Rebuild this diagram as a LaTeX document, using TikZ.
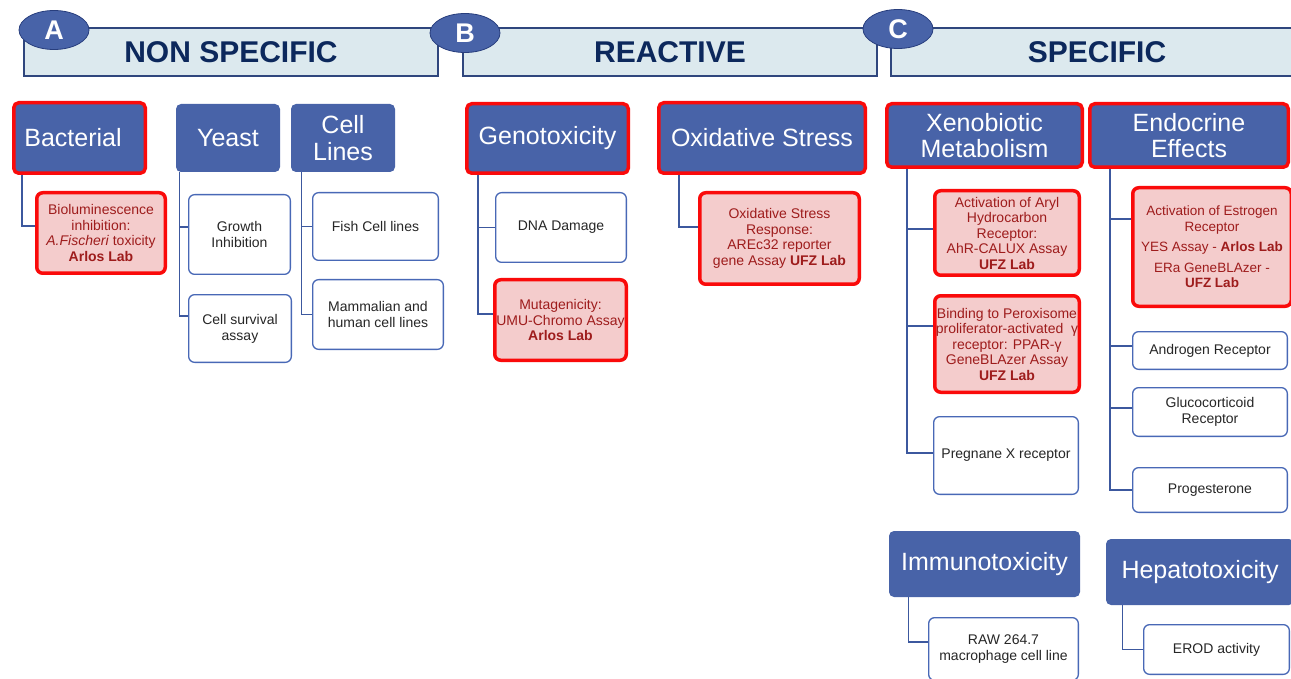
\documentclass[tikz,border=0pt]{standalone}
\usepackage{fontspec}
\setmainfont{Liberation Sans}
\usepackage{xcolor}
\definecolor{catblue}{RGB}{72,99,168}
\definecolor{barfill}{RGB}{220,233,238}
\definecolor{barline}{RGB}{47,70,125}
\definecolor{hdrnavy}{RGB}{12,40,92}
\definecolor{badgeline}{RGB}{40,62,125}
\definecolor{hitred}{RGB}{250,10,10}
\definecolor{hitpink}{RGB}{244,204,204}
\definecolor{hittext}{RGB}{158,28,28}
\definecolor{edgeblue}{RGB}{72,104,182}
\definecolor{linkblue}{RGB}{60,88,158}
\usepackage{tikz}
\usetikzlibrary{shapes.geometric}

\begin{document}
\begin{tikzpicture}[x=1pt, y=-1pt,
  hdrbar/.style={draw=barline, fill=barfill, line width=1.2pt, inner sep=0pt, text=hdrnavy, font=\fontsize{30}{30}\selectfont\bfseries},
  badge/.style={ellipse, draw=badgeline, fill=catblue, line width=0.8pt, minimum width=70pt, minimum height=39pt, inner sep=0pt, text=white, font=\fontsize{27}{27}\selectfont\bfseries},
  catbox/.style={rectangle, rounded corners=5pt, fill=catblue, text=white, inner sep=0pt, align=center, font=\fontsize{25}{26.5}\selectfont},
  hitcat/.style={catbox, draw=hitred, line width=3.5pt},
  assay/.style={rectangle, rounded corners=6pt, draw=edgeblue, fill=white, line width=1.3pt, inner sep=0pt, align=center, text=black!85, font=\fontsize{14}{16}\selectfont},
  hitassay/.style={assay, draw=hitred, fill=hitpink, line width=3.5pt, text=hittext, font=\fontsize{14}{15.5}\selectfont},
  link/.style={draw=linkblue, line width=1.3pt}
]
  \path[use as bounding box, clip] (0,0) rectangle (1291,679);

  % Header bars
  \node[hdrbar, minimum width=414pt, minimum height=48pt] (barA) at (231,52) {NON SPECIFIC};
  \node[hdrbar, minimum width=414pt, minimum height=48pt] (barB) at (670,52) {REACTIVE};
  \node[hdrbar, minimum width=412pt, minimum height=48pt] (barC) at (1097,52) {SPECIFIC};
  \node[badge] (tagA) at (54,30) {A};
  \node[badge] (tagB) at (465,33) {B};
  \node[badge] (tagC) at (898,29) {C};

  % A -- Bacterial
  \node[hitcat, minimum width=131.5pt, minimum height=70.5pt] (bact) at (79.5,138) {Bacterial\hspace*{13pt}};
  \node[hitassay, minimum width=128.5pt, minimum height=80.5pt] (biolum) at (101,233)
       {Bioluminescence\\inhibition:\\\textit{A.Fischeri} toxicity\\\textbf{Arlos Lab}};
  \draw[link] ([xshift=10pt]bact.south west) |- ([yshift=7pt]biolum.west);

  % A -- Yeast
  \node[catbox, minimum width=104pt, minimum height=68pt] (yeast) at (228,138) {Yeast};
  \node[assay, minimum width=101.7pt, minimum height=79.7pt] (growth) at (239.5,234.5) {Growth\\Inhibition};
  \node[assay, minimum width=102.7pt, minimum height=67.7pt] (survival) at (240,328.5) {Cell survival\\assay};
  \draw[link] ([xshift=4pt]yeast.south west) |- ([yshift=7.5pt]growth.west);
  \draw[link] ([xshift=4pt]yeast.south west) |- ([yshift=12.5pt]survival.west);

  % A -- Cell lines
  \node[catbox, minimum width=104pt, minimum height=68pt] (cells) at (343,138) {Cell\\Lines};
  \node[assay, minimum width=125.7pt, minimum height=67.7pt] (fish) at (375.5,226.5) {Fish Cell lines};
  \node[assay, minimum width=130.7pt, minimum height=69.7pt] (mammal) at (378,314.5) {Mammalian and\\human cell lines};
  \draw[link] ([xshift=11pt]cells.south west) |- (fish.west);
  \draw[link] ([xshift=11pt]cells.south west) |- (mammal.west);

  % B -- Genotoxicity
  \node[hitcat, minimum width=161.5pt, minimum height=69.5pt] (geno) at (547.5,138.5) {Genotoxicity};
  \node[assay, minimum width=130.7pt, minimum height=69.7pt] (dna) at (561,227.5) {DNA Damage};
  \node[hitassay, minimum width=131.5pt, minimum height=80.5pt] (mutagen) at (560.5,320)
       {Mutagenicity:\\UMU-Chromo Assay\\\textbf{Arlos Lab}};
  \draw[link] ([xshift=13pt]geno.south west) |- (dna.west);
  \draw[link] ([xshift=13pt]geno.south west) |- ([yshift=6pt]mutagen.west);

  % B -- Oxidative stress
  \node[hitcat, minimum width=206.5pt, minimum height=70.5pt] (oxid) at (762,138) {Oxidative Stress};
  \node[hitassay, minimum width=159.5pt, minimum height=91.5pt] (arec) at (779.5,238.5)
       {Oxidative Stress\\Response:\\AREc32 reporter\\gene Assay \textbf{UFZ Lab}};
  \draw[link] ([xshift=22pt]oxid.south west) |- ([yshift=11.5pt]arec.west);

  % C -- Xenobiotic metabolism
  \node[hitcat, minimum width=195.5pt, minimum height=63.5pt] (xeno) at (984.5,135.5) {Xenobiotic\\Metabolism};
  \node[hitassay, minimum width=144.5pt, minimum height=84.5pt] (ahr) at (1007,233)
       {Activation of Aryl\\Hydrocarbon\\Receptor:\\AhR-CALUX Assay\\\textbf{UFZ Lab}};
  \node[hitassay, minimum width=144.5pt, minimum height=96.5pt] (ppar) at (1007,344)
       {Binding to Peroxisome\\proliferator-activated\ \ γ\\receptor: PPAR-γ\\GeneBLAzer Assay\\\textbf{UFZ Lab}};
  \node[assay, minimum width=144.7pt, minimum height=77.7pt] (pxr) at (1006,455.5) {Pregnane X receptor};
  \draw[link] ([xshift=22pt]xeno.south west) |- ([yshift=4pt]ahr.west);
  \draw[link] ([xshift=22pt]xeno.south west) |- ([yshift=18pt]ppar.west);
  \draw[link] ([xshift=22pt]xeno.south west) |- ([yshift=2.5pt]pxr.west);

  % C -- Endocrine effects
  \node[hitcat, minimum width=198.5pt, minimum height=63.5pt] (endo) at (1189,135.5) {Endocrine\\Effects};
  \node[hitassay, minimum width=158.5pt, minimum height=118.5pt, font=\fontsize{13.5}{15.5}\selectfont] (estro) at (1212,247)
       {Activation of Estrogen\\Receptor\\[5pt]YES Assay - \textbf{Arlos Lab}\\[5pt]ERa GeneBLAzer -\\\textbf{UFZ Lab}};
  \node[assay, minimum width=154.7pt, minimum height=37.7pt] (andro) at (1210,350.5) {Androgen Receptor};
  \node[assay, minimum width=154.7pt, minimum height=48.7pt] (gluco) at (1210,412) {Glucocorticoid\\Receptor};
  \node[assay, minimum width=154.7pt, minimum height=44.7pt] (proges) at (1210,490) {Progesterone};
  \draw[link] ([xshift=22pt]endo.south west) |- ([yshift=28pt]estro.west);
  \draw[link] ([xshift=22pt]endo.south west) |- ([yshift=4.5pt]andro.west);
  \draw[link] ([xshift=22pt]endo.south west) |- ([yshift=4pt]gluco.west);
  \draw[link] ([xshift=22pt]endo.south west) |- (proges.west);

  % C -- Immunotoxicity
  \node[catbox, minimum width=191pt, minimum height=66pt] (immuno) at (984.5,564) {Immunotoxicity};
  \node[assay, minimum width=149.7pt, minimum height=62.7pt] (raw) at (1003.5,649) {RAW 264.7\\macrophage cell line};
  \draw[link] ([xshift=20pt]immuno.south west) |- ([yshift=7pt]raw.west);

  % C -- Hepatotoxicity
  \node[catbox, minimum width=188pt, minimum height=66pt] (hepato) at (1200,572) {Hepatotoxicity};
  \node[assay, minimum width=145.7pt, minimum height=49.7pt] (erod) at (1216.5,649.5) {EROD activity};
  \draw[link] ([xshift=17pt]hepato.south west) |- (erod.west);
\end{tikzpicture}
\end{document}
